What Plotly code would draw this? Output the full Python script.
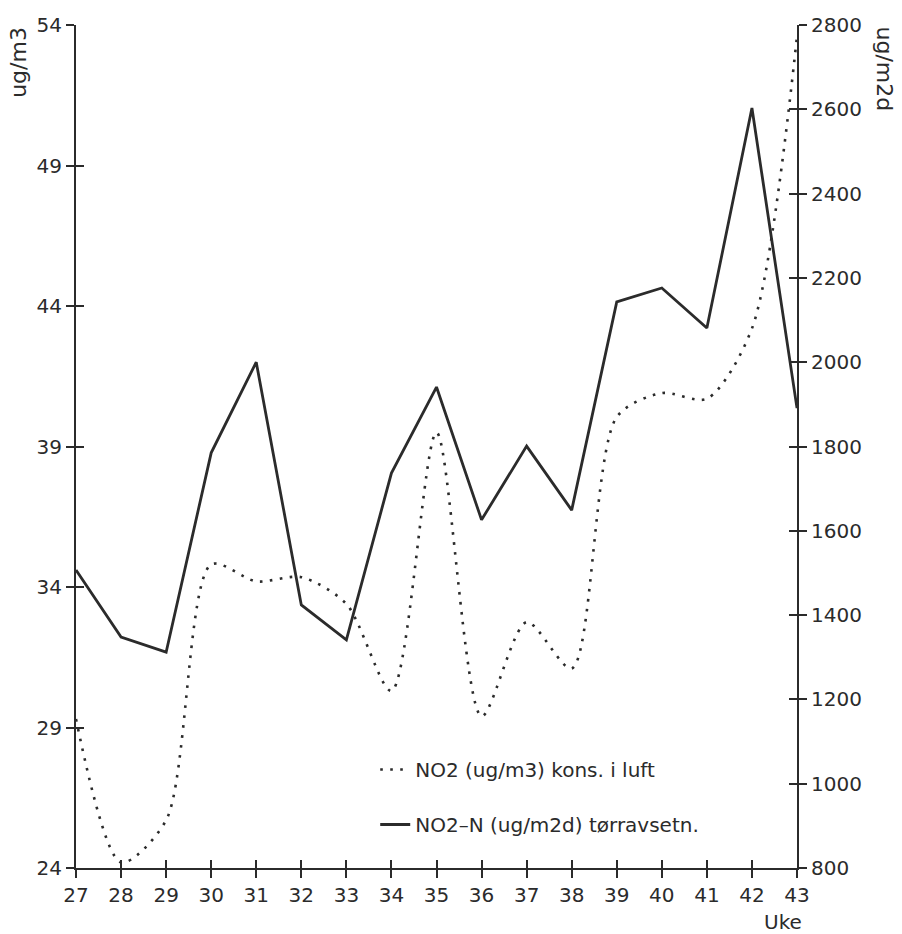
import plotly.graph_objects as go

weeks = [27, 28, 29, 30, 31, 32, 33, 34, 35, 36, 37, 38, 39, 40, 41, 42, 43]
no2_air = [29.3, 24.2, 25.7, 34.8, 34.2, 34.35, 33.4, 30.3, 39.5, 29.4, 32.75, 31.1, 40.05, 40.9, 40.7, 43.2, 53.6]
no2n_dry = [1507, 1348, 1312, 1785, 2000, 1424, 1341, 1737, 1941, 1626, 1801, 1649, 2143, 2176, 2081, 2603, 1891]

left_ticks = [24, 29, 34, 39, 44, 49, 54]
right_ticks = [800, 1000, 1200, 1400, 1600, 1800, 2000, 2200, 2400, 2600, 2800]

name_air = "NO2 (ug/m3) kons. i luft"
name_dry = "NO2\u2013N (ug/m2d) t\u00f8rravsetn."

FONT = "DejaVu Sans"
INK = "#2b2b2b"
FS = 20

fig = go.Figure()
fig.add_trace(go.Scatter(
    x=weeks, y=no2_air, mode="lines", name=name_air, yaxis="y",
    line=dict(color=INK, width=2.6, dash="2.6px,7.4px", shape="spline", smoothing=0.8),
    legendgroup="a",
))
fig.add_trace(go.Scatter(
    x=weeks, y=no2n_dry, mode="lines", name=name_dry, yaxis="y2",
    line=dict(color=INK, width=2.8),
    legendgroup="b",
))
# empty helper traces so that the inward-tick overlay axes are drawn
for xa, ya in [("x2", "y"), ("x", "y3"), ("x", "y4")]:
    fig.add_trace(go.Scatter(x=[None], y=[None], xaxis=xa, yaxis=ya, mode="lines",
                             showlegend=False, hoverinfo="skip"))

axis_common = dict(showgrid=False, zeroline=False, linecolor=INK, linewidth=2,
                   tickcolor=INK, tickwidth=1.5,
                   tickfont=dict(family=FONT, size=FS, color=INK))
inner = dict(ticks="inside", ticklen=8, showticklabels=False, showline=False,
             showgrid=False, zeroline=False, tickcolor=INK, tickwidth=1.5, tickmode="array")

fig.update_layout(
    width=902, height=934,
    margin=dict(l=76, r=105, t=25, b=66),
    paper_bgcolor="white", plot_bgcolor="white",
    font=dict(family=FONT, color=INK),
    xaxis=dict(range=[27, 43], tickmode="array", tickvals=weeks, ticks="outside", ticklen=8,
               showline=True, **axis_common),
    xaxis2=dict(range=[27, 43], overlaying="x", anchor="y", side="bottom", tickvals=weeks, **inner),
    yaxis=dict(range=[24, 54], tickmode="array", tickvals=left_ticks, ticks="outside", ticklen=8,
               showline=True, **axis_common),
    yaxis3=dict(range=[24, 54], overlaying="y", anchor="x", side="left", tickvals=left_ticks, **inner),
    yaxis2=dict(range=[800, 2800], overlaying="y", anchor="x", side="right", tickmode="array",
                tickvals=right_ticks, ticks="outside", ticklen=8, showline=True, **axis_common),
    yaxis4=dict(range=[800, 2800], overlaying="y", anchor="x", side="right", tickvals=right_ticks, **inner),
    legend=dict(x=0.415, y=0.14, xanchor="left", yanchor="top", bgcolor="rgba(0,0,0,0)",
                font=dict(family=FONT, size=FS, color=INK), tracegroupgap=26,
                itemwidth=30),
    showlegend=True,
    annotations=[
        dict(text="ug/m3", xref="paper", yref="paper", x=-0.08, y=1.0, xanchor="center",
             yanchor="top", textangle=-90, showarrow=False,
             font=dict(family=FONT, size=22, color=INK)),
        dict(text="ug/m2d", xref="paper", yref="paper", x=1.122, y=1.0, xanchor="center",
             yanchor="top", textangle=90, showarrow=False,
             font=dict(family=FONT, size=22, color=INK)),
        dict(text="Uke", xref="paper", yref="paper", x=0.98, y=-0.047, xanchor="center",
             yanchor="top", showarrow=False,
             font=dict(family=FONT, size=FS, color=INK)),
    ],
)

fig.write_html("out.html")
